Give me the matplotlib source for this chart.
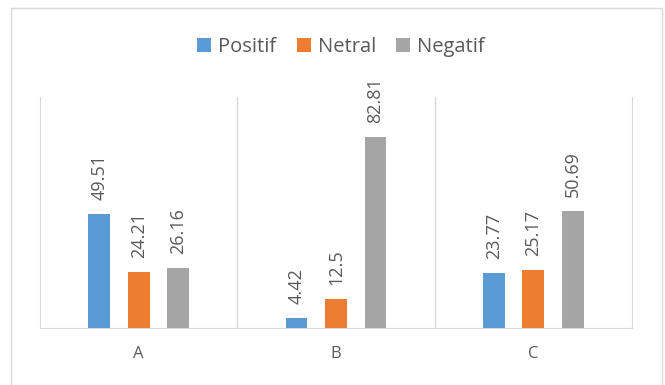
import matplotlib.pyplot as plt
import numpy as np
from matplotlib.patches import Rectangle

plt.rcParams["font.family"] = ["Open Sans", "DejaVu Sans"]

categories = ["A", "B", "C"]
series = ["Positif", "Netral", "Negatif"]
positif = [49.51, 4.42, 23.77]
netral = [24.21, 12.5, 25.17]
negatif = [26.16, 82.81, 50.69]
labels = [["49.51", "4.42", "23.77"], ["24.21", "12.5", "25.17"], ["26.16", "82.81", "50.69"]]

colors = ["#5B9BD5", "#ED7D31", "#A5A5A5"]
grid = "#D9D9D9"
text_c = "#595959"

fig = plt.figure(figsize=(6.65, 3.85), dpi=100)
ax = fig.add_axes([40 / 665, 1 - 328 / 385, 592 / 665, 231 / 385])

# chart border (bottom edge runs past the image)
fig.patches.append(Rectangle((11 / 665, -10 / 385), 651 / 665, 387 / 385,
                             transform=fig.transFigure, fill=False,
                             edgecolor=grid, linewidth=1))

x = np.arange(len(categories))
offsets = [-0.2, 0.0, 0.2]
for vals, lab, off, c, name in zip([positif, netral, negatif], labels, offsets, colors, series):
    ax.bar(x + off, vals, width=0.11, color=c, label=name, zorder=3)
    for xi, v, t in zip(x, vals, lab):
        ax.annotate(t, xy=(xi + off, v), xytext=(0, 10), textcoords="offset points",
                    rotation=90, ha="center", va="bottom", fontsize=13, color=text_c)

ax.set_xlim(-0.5, 2.5)
ax.set_ylim(0, 100)
ax.set_xticks(x)
ax.set_xticklabels(categories, fontsize=12, color=text_c)
ax.tick_params(axis="x", length=0, pad=13)
ax.set_yticks([])

ax.set_xticks([0.5, 1.5], minor=True)
ax.tick_params(axis="x", which="minor", length=0)
ax.grid(axis="x", which="minor", color=grid, linewidth=1, zorder=0)

for s in ["left", "right", "bottom"]:
    ax.spines[s].set_color(grid)
ax.spines["top"].set_visible(False)

fig.legend(loc="center", bbox_to_anchor=(0.513, 1 - 47 / 385), ncol=3, frameon=False,
           fontsize=14.5, handlelength=0.7, handleheight=0.7, handletextpad=0.35,
           columnspacing=1.0, labelcolor=text_c)

fig.savefig("out.png", dpi=100)
